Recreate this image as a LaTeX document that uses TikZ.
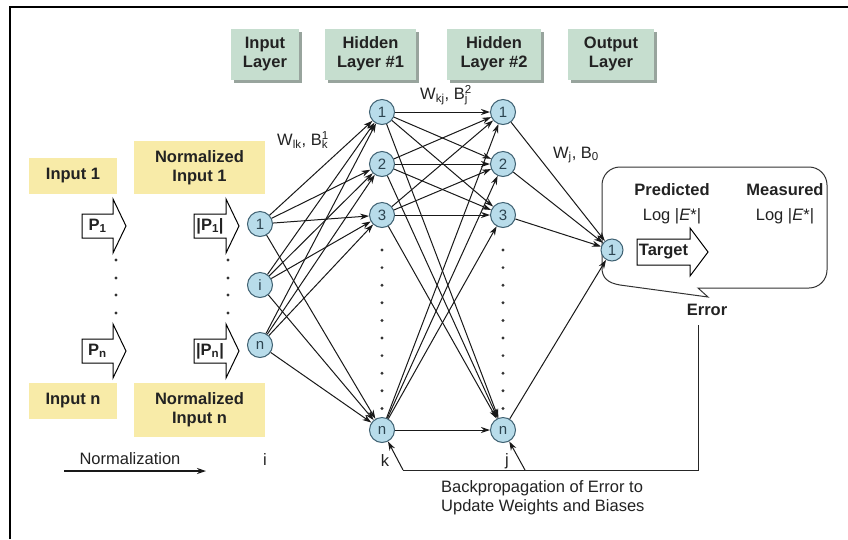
\documentclass[tikz,border=0pt]{standalone}
\usepackage{fontspec}
\setmainfont{Liberation Sans}
\usetikzlibrary{arrows.meta,shadows}
\definecolor{lyellow}{HTML}{F8EBA8}
\definecolor{lgreen}{HTML}{C6DECF}
\definecolor{shadowg}{HTML}{98A49D}
\definecolor{nodefill}{HTML}{B8DCEA}
\definecolor{nodeline}{HTML}{3F6172}
\definecolor{txt}{HTML}{222222}
\newcommand\supsubx[2]{\makebox[0pt][l]{\textsubscript{#2}}\textsuperscript{#1}}
\newcommand\blockarr[8]{%
  \draw[arrowbox] (#2,#5-#6) -- (#3,#5-#6) -- (#3,#5-#7) -- (#4,#5) -- (#3,#5+#7) -- (#3,#5+#6) -- (#2,#5+#6) -- cycle;
  \node[btxt] (#1) at ({(#2+#3)/2},#5) {#8};}
\begin{document}
\begin{tikzpicture}[x=1pt,y=-1pt,
  neuron/.style={circle, draw=nodeline, fill=nodefill, line width=1pt, minimum size=25pt, inner sep=0pt,
    font=\fontsize{15}{15}\selectfont, text=nodeline!70!black},
  conn/.style={-{Stealth[length=9pt,width=6pt]}, line width=1pt, black!90},
  ybox/.style={fill=lyellow, draw=none, inner sep=0pt},
  gbox/.style={fill=lgreen, draw=none, inner sep=0pt,
    drop shadow={shadow xshift=3pt, shadow yshift=-3pt, fill=shadowg, opacity=1}},
  btxt/.style={font=\fontsize{16.5}{19}\selectfont\bfseries, text=txt, align=center, inner sep=0pt},
  rtxt/.style={font=\fontsize{16.5}{19}\selectfont, text=txt, align=left, inner sep=0pt},
  arrowbox/.style={draw=black, fill=white, line width=1pt, line join=miter},
  dotmark/.style={fill=black!80},
]
\useasboundingbox (0,0) rectangle (848,539);
\fill[white] (0,0) rectangle (848,539);
\draw[line width=2.5pt] (10,539) -- (10,7) -- (848,7);

% layer label boxes
\node[gbox, btxt, minimum width=68pt, minimum height=51pt] (lin) at (265,54) {Input\\Layer};
\node[gbox, btxt, minimum width=91pt, minimum height=51pt] (lh1) at (370.5,54) {Hidden\\Layer \#1};
\node[gbox, btxt, minimum width=94pt, minimum height=51pt] (lh2) at (494,54) {Hidden\\Layer \#2};
\node[gbox, btxt, minimum width=86pt, minimum height=51pt] (lout) at (611,54) {Output\\Layer};

% yellow boxes
\node[ybox, btxt, minimum width=88pt, minimum height=36pt] (y1) at (73,176) {Input 1};
\node[ybox, btxt, minimum width=131pt, minimum height=53pt] (y2) at (199.5,167.5) {Normalized\\Input 1};
\node[ybox, btxt, minimum width=88pt, minimum height=36pt] (y3) at (73,401) {Input n};
\node[ybox, btxt, minimum width=131pt, minimum height=54pt] (y4) at (199.5,410) {Normalized\\Input n};

% block arrows
\blockarr{p1}{82}{113}{126}{226}{12}{27}{P\textsubscript{1}}
\blockarr{pn}{82}{113}{126}{351}{12}{27}{P\textsubscript{n}}
\blockarr{ip1}{194}{226}{239}{226}{12}{27}{|P\textsubscript{1}|}
\blockarr{ipn}{194}{226}{239}{351}{12}{27}{|P\textsubscript{n}|}

% vertical dots under arrows
\foreach \yy in {260,278,295,313} {
  \fill[dotmark] (116,\yy) circle (1.6);
  \fill[dotmark] (228,\yy) circle (1.6);
}

% callout box
\draw[line width=1pt, black!80, fill=white]
  (620,167) -- (809,167) arc[start angle=-90, end angle=0, radius=18] -- (827,270)
  arc[start angle=0, end angle=90, radius=18] -- (698,288) -- (708,297) -- (620,285)
  .. controls (608,283) and (602,278) .. (602,268) -- (602,185)
  arc[start angle=180, end angle=270, radius=18] -- cycle;
\node[btxt] (pred) at (672,190) {Predicted};
\node[btxt] (meas) at (785,190) {Measured};
\node[rtxt] (logp) at (672,216) {Log |\textit{E}*|};
\node[rtxt] (logm) at (785,216) {Log |\textit{E}*|};
\blockarr{targ}{637}{690}{708}{252}{13}{24}{Target}
\node[btxt] (err) at (707,310) {Error};

% neurons
\node[neuron] (in1) at (260,224) {1};
\node[neuron] (ini) at (260,285) {i};
\node[neuron] (inn) at (260,345) {n};
\node[neuron] (h11) at (382,112) {1};
\node[neuron] (h12) at (382,164) {2};
\node[neuron] (h13) at (382,215) {3};
\node[neuron] (h1n) at (382,430) {n};
\node[neuron] (h21) at (503,112) {1};
\node[neuron] (h22) at (503,164) {2};
\node[neuron] (h23) at (503,215) {3};
\node[neuron] (h2n) at (503,430) {n};
\node[neuron, minimum size=22pt] (o1) at (612,250) {1};

% dots in hidden layers
\foreach \i in {0,...,9} {
  \fill[dotmark] (382,250+\i*17.6) circle (1.6);
  \fill[dotmark] (503,250+\i*17.6) circle (1.6);
}

% connections
\foreach \a in {in1,ini,inn} \foreach \b in {h11,h12,h13,h1n} \draw[conn] (\a) -- (\b);
\foreach \a in {h11,h12,h13,h1n} \foreach \b in {h21,h22,h23,h2n} \draw[conn] (\a) -- (\b);
\foreach \a in {h21,h22,h23,h2n} \draw[conn] (\a) -- (o1);

% weight labels
\node[rtxt] (wlk) at (303,140) {W\textsubscript{lk}, B\supsubx{1}{k}};
\node[rtxt] (wkj) at (446,95) {W\textsubscript{kj}, B\supsubx{2}{j}};
\node[rtxt] (wj) at (576,155) {W\textsubscript{j}, B\textsubscript{0}};

% index labels
\node[rtxt] (li) at (265,460) {i};
\node[rtxt] (lk) at (385,461) {k};
\node[rtxt] (lj) at (507,461) {j};

% normalization
\node[rtxt] (norm) at (130,459) {Normalization};
\coordinate (na) at (64,471);
\coordinate (nb) at (206,471);
\draw[-{Stealth[length=9pt,width=6pt]}, line width=1.6pt, black!90] (na) -- (nb);

% backpropagation
\coordinate (e1) at (698,325);
\coordinate (e2) at (698,470);
\coordinate (b1) at (403,470);
\coordinate (b2) at (525,470);
\draw[line width=1pt, black!85] (e1) -- (e2) -- (b1);
\draw[conn] (b1) -- (h1n);
\draw[conn] (b2) -- (h2n);
\node[rtxt, anchor=west] (bp) at (441,497.5) {Backpropagation of Error to\\Update Weights and Biases};
\end{tikzpicture}
\end{document}
